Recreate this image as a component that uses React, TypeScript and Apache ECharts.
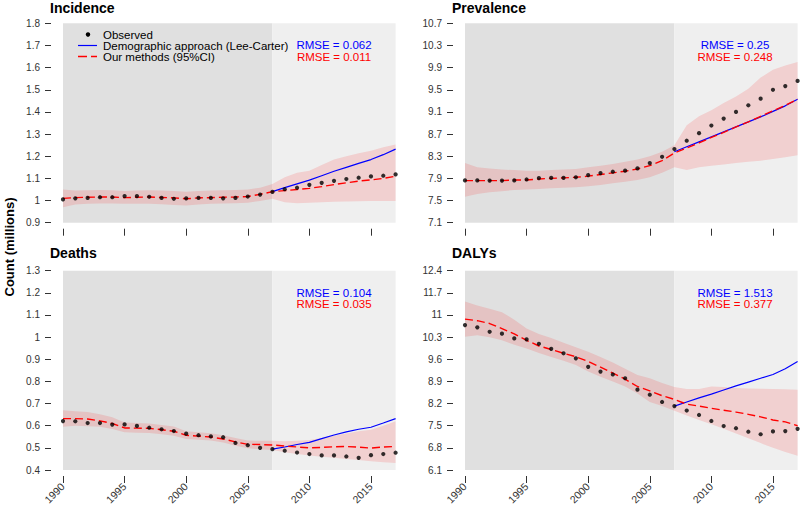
import React, { useEffect, useRef } from "react";
import * as echarts from "echarts";

const years = [1990, 1991, 1992, 1993, 1994, 1995, 1996, 1997, 1998, 1999, 2000, 2001, 2002, 2003, 2004, 2005, 2006, 2007, 2008, 2009, 2010, 2011, 2012, 2013, 2014, 2015, 2016, 2017];
const forecastYears = [2007, 2008, 2009, 2010, 2011, 2012, 2013, 2014, 2015, 2016, 2017];
const xTicks = [1990, 1995, 2000, 2005, 2010, 2015];

// Incidence
const incidenceObserved = [1.005, 1.01, 1.012, 1.015, 1.015, 1.02, 1.02, 1.017, 1.012, 1.008, 1.01, 1.012, 1.012, 1.01, 1.012, 1.018, 1.027, 1.039, 1.051, 1.058, 1.071, 1.08, 1.089, 1.097, 1.103, 1.109, 1.112, 1.118];
const incidenceModel = [1.01, 1.013, 1.015, 1.016, 1.016, 1.013, 1.015, 1.016, 1.014, 1.012, 1.008, 1.012, 1.013, 1.015, 1.016, 1.018, 1.028, 1.04, 1.045, 1.05, 1.055, 1.063, 1.072, 1.08, 1.088, 1.093, 1.1, 1.11];
const incidenceLC = [1.04, 1.058, 1.075, 1.092, 1.112, 1.132, 1.15, 1.168, 1.185, 1.207, 1.232];
const incidenceLower = [0.97, 0.982, 0.985, 0.987, 0.987, 0.985, 0.985, 0.985, 0.983, 0.98, 0.978, 0.982, 0.985, 0.987, 0.988, 0.99, 0.998, 1.008, 0.992, 0.988, 0.99, 0.992, 0.994, 0.996, 0.997, 0.998, 0.998, 0.998];
const incidenceUpper = [1.05, 1.045, 1.047, 1.048, 1.047, 1.043, 1.045, 1.047, 1.045, 1.043, 1.04, 1.043, 1.045, 1.047, 1.048, 1.05, 1.058, 1.075, 1.105, 1.125, 1.135, 1.16, 1.185, 1.2, 1.213, 1.225, 1.24, 1.253];
const incidenceTicks = ["0.9", "1", "1.1", "1.2", "1.3", "1.4", "1.5", "1.6", "1.7", "1.8"];

// Prevalence
const prevalenceObserved = [7.864, 7.864, 7.86, 7.86, 7.864, 7.88, 7.906, 7.91, 7.91, 7.92, 7.96, 7.996, 8.02, 8.04, 8.08, 8.176, 8.29, 8.43, 8.58, 8.716, 8.854, 8.98, 9.1, 9.22, 9.34, 9.5, 9.566, 9.66];
const prevalenceModel = [7.86, 7.86, 7.86, 7.86, 7.87, 7.87, 7.89, 7.9, 7.91, 7.92, 7.94, 7.97, 8.0, 8.03, 8.07, 8.13, 8.22, 8.36, 8.45, 8.54, 8.64, 8.73, 8.83, 8.92, 9.02, 9.12, 9.22, 9.33];
const prevalenceLC = [8.38, 8.47, 8.56, 8.65, 8.74, 8.83, 8.92, 9.01, 9.11, 9.21, 9.33];
const prevalenceLower = [7.57, 7.62, 7.65, 7.67, 7.69, 7.7, 7.71, 7.72, 7.73, 7.74, 7.76, 7.78, 7.81, 7.84, 7.87, 7.92, 8.0, 8.1, 8.05, 8.1, 8.13, 8.15, 8.18, 8.2, 8.22, 8.25, 8.28, 8.32];
const prevalenceUpper = [8.18, 8.1, 8.08, 8.06, 8.05, 8.04, 8.04, 8.05, 8.06, 8.07, 8.1, 8.13, 8.16, 8.2, 8.24, 8.3, 8.38, 8.5, 8.86, 9.02, 9.13, 9.26, 9.38, 9.52, 9.72, 9.86, 9.94, 10.0];
const prevalenceTicks = ["7.1", "7.5", "7.9", "8.3", "8.7", "9.1", "9.5", "9.9", "10.3", "10.7"];

// Deaths
const deathsObserved = [0.621, 0.62, 0.612, 0.612, 0.605, 0.606, 0.599, 0.591, 0.584, 0.576, 0.564, 0.557, 0.552, 0.548, 0.522, 0.512, 0.5, 0.494, 0.487, 0.479, 0.472, 0.466, 0.466, 0.461, 0.455, 0.467, 0.472, 0.478];
const deathsModel = [0.632, 0.632, 0.63, 0.622, 0.61, 0.59, 0.589, 0.588, 0.582, 0.575, 0.557, 0.553, 0.549, 0.54, 0.527, 0.516, 0.515, 0.513, 0.508, 0.504, 0.5, 0.502, 0.505, 0.506, 0.503, 0.499, 0.504, 0.506];
const deathsLC = [0.494, 0.504, 0.515, 0.525, 0.542, 0.558, 0.572, 0.584, 0.593, 0.612, 0.632];
const deathsLower = [0.595, 0.6, 0.598, 0.595, 0.585, 0.57, 0.568, 0.567, 0.562, 0.555, 0.54, 0.537, 0.533, 0.524, 0.51, 0.498, 0.494, 0.49, 0.48, 0.472, 0.465, 0.46, 0.455, 0.45, 0.445, 0.44, 0.435, 0.432];
const deathsUpper = [0.67, 0.665, 0.662, 0.652, 0.638, 0.615, 0.612, 0.61, 0.603, 0.596, 0.575, 0.57, 0.566, 0.557, 0.544, 0.533, 0.532, 0.532, 0.53, 0.532, 0.535, 0.545, 0.555, 0.565, 0.575, 0.582, 0.6, 0.62];
const deathsTicks = ["0.4", "0.5", "0.6", "0.7", "0.8", "0.9", "1", "1.1", "1.2", "1.3"];

// DALYs
const dalysObserved = [10.68, 10.61, 10.47, 10.41, 10.26, 10.23, 10.09, 9.93, 9.79, 9.63, 9.36, 9.21, 9.12, 9.0, 8.64, 8.48, 8.25, 8.12, 7.98, 7.84, 7.65, 7.49, 7.42, 7.31, 7.23, 7.32, 7.33, 7.4];
const dalysModel = [10.87, 10.82, 10.73, 10.57, 10.4, 10.2, 10.02, 9.91, 9.79, 9.68, 9.53, 9.35, 9.16, 8.97, 8.74, 8.6, 8.45, 8.33, 8.18, 8.12, 8.05, 7.99, 7.93, 7.86, 7.78, 7.68, 7.62, 7.5];
const dalysLC = [8.12, 8.25, 8.38, 8.5, 8.63, 8.76, 8.88, 9.0, 9.12, 9.3, 9.53];
const dalysLower = [10.31, 10.36, 10.3, 10.2, 10.06, 9.94, 9.8, 9.67, 9.55, 9.42, 9.21, 9.05, 8.9, 8.74, 8.52, 8.25, 8.12, 7.97, 7.82, 7.68, 7.55, 7.4, 7.25, 7.1, 6.95, 6.8, 6.67, 6.55];
const dalysUpper = [11.43, 11.3, 11.2, 11.09, 10.85, 10.57, 10.4, 10.27, 10.12, 9.98, 9.84, 9.67, 9.5, 9.3, 9.1, 9.0, 8.85, 8.72, 8.66, 8.66, 8.74, 8.72, 8.69, 8.68, 8.67, 8.66, 8.65, 8.64];
const dalysTicks = ["6.1", "6.8", "7.5", "8.2", "8.9", "9.6", "10.3", "11", "11.7", "12.4"];

const panelTitles = ["Incidence", "Prevalence", "Deaths", "DALYs"];
const rmseLC = ["RMSE = 0.062", "RMSE = 0.25", "RMSE = 0.104", "RMSE = 1.513"];
const rmseOurs = ["RMSE = 0.011", "RMSE = 0.248", "RMSE = 0.035", "RMSE = 0.377"];
const legendLabels = ["Observed", "Demographic approach (Lee-Carter)", "Our methods (95%CI)"];
const yAxisTitle = "Count (millions)";

const FONT = "'Liberation Sans', Arial, Helvetica, sans-serif";

export default function App() {
  const ref = useRef<HTMLDivElement>(null);

  useEffect(() => {
    if (!ref.current) return;
    const chart = echarts.init(ref.current, null, { renderer: "svg" });

    const panels = [
      { obs: incidenceObserved, model: incidenceModel, lc: incidenceLC, lo: incidenceLower, hi: incidenceUpper, ticks: incidenceTicks },
      { obs: prevalenceObserved, model: prevalenceModel, lc: prevalenceLC, lo: prevalenceLower, hi: prevalenceUpper, ticks: prevalenceTicks },
      { obs: deathsObserved, model: deathsModel, lc: deathsLC, lo: deathsLower, hi: deathsUpper, ticks: deathsTicks },
      { obs: dalysObserved, model: dalysModel, lc: dalysLC, lo: dalysLower, hi: dalysUpper, ticks: dalysTicks },
    ];

    const gridPos = [
      { left: 63, top: 23.3, width: 332.6, height: 199.4 },
      { left: 465, top: 23.3, width: 332.6, height: 199.4 },
      { left: 63, top: 270.7, width: 332.6, height: 199.3 },
      { left: 465, top: 270.7, width: 332.6, height: 199.3 },
    ];

    const grid = gridPos.map((g) => ({ ...g, containLabel: false }));

    const xAxis = panels.map((_, i) => ({
      type: "value",
      gridIndex: i,
      min: 1990,
      max: 2017,
      offset: 6,
      axisLine: { show: false },
      splitLine: { show: false },
      axisTick: { show: true, length: 7, customValues: xTicks, lineStyle: { color: "#333", width: 1 } },
      axisLabel: {
        show: i >= 2,
        customValues: xTicks,
        rotate: 45,
        margin: 9,
        fontSize: 10.5,
        color: "#333",
        fontFamily: FONT,
        formatter: (v: number) => String(Math.round(v)),
      },
    }));

    const yAxis = panels.map((p, i) => {
      const vals = p.ticks.map(Number);
      return {
        type: "value",
        gridIndex: i,
        min: vals[0],
        max: vals[vals.length - 1],
        offset: 12,
        axisLine: { show: false },
        splitLine: { show: false },
        axisTick: { show: true, length: 6, customValues: vals, lineStyle: { color: "#333", width: 1 } },
        axisLabel: {
          customValues: vals,
          margin: 11,
          fontSize: 10,
          color: "#333",
          fontFamily: FONT,
          formatter: (v: number) => {
            const k = vals.findIndex((t) => Math.abs(t - v) < 1e-6);
            return k >= 0 ? p.ticks[k] : "";
          },
        },
      };
    });

    const series: any[] = [];
    panels.forEach((p, i) => {
      // background periods (fitting / forecasting)
      series.push({
        type: "line",
        xAxisIndex: i,
        yAxisIndex: i,
        data: years.map((y, k) => [y, p.lo[k]]),
        symbol: "none",
        silent: true,
        lineStyle: { opacity: 0 },
        z: 0,
        markArea: {
          silent: true,
          z: 0,
          data: [
            [{ xAxis: 1990, itemStyle: { color: "#e0e0e0" } }, { xAxis: 2007 }],
            [{ xAxis: 2007, itemStyle: { color: "#efefef" } }, { xAxis: 2017 }],
          ],
        },
      });
      // 95% CI band
      series.push({
        type: "custom",
        xAxisIndex: i,
        yAxisIndex: i,
        silent: true,
        z: 2,
        clip: true,
        encode: { x: 0, y: [1, 2] },
        data: years.map((y, k) => [y, p.lo[k], p.hi[k]]),
        renderItem: (params: any, api: any) => {
          if (params.dataIndex !== 0) return null;
          const pts: number[][] = [];
          years.forEach((y, k) => pts.push(api.coord([y, p.hi[k]])));
          for (let k = years.length - 1; k >= 0; k--) pts.push(api.coord([years[k], p.lo[k]]));
          return {
            type: "polygon",
            shape: { points: pts },
            style: { fill: "rgba(255,0,0,0.13)", stroke: "none" },
          };
        },
      });
      series.push({
        type: "line",
        xAxisIndex: i,
        yAxisIndex: i,
        data: forecastYears.map((y, k) => [y, p.lc[k]]),
        symbol: "none",
        lineStyle: { color: "#0000ff", width: 1.2 },
        z: 3,
      });
      series.push({
        type: "line",
        xAxisIndex: i,
        yAxisIndex: i,
        data: years.map((y, k) => [y, p.model[k]]),
        symbol: "none",
        lineStyle: { color: "#ff0000", width: 1.4, type: [8, 4] },
        z: 4,
      });
      series.push({
        type: "scatter",
        xAxisIndex: i,
        yAxisIndex: i,
        data: years.map((y, k) => [y, p.obs[k]]),
        symbol: "circle",
        symbolSize: 4.2,
        itemStyle: { color: "#000" },
        z: 5,
      });
    });

    const titlePos = [
      [50, 7.5],
      [452, 7.5],
      [50, 253],
      [452, 253],
    ];
    const rmsePos = [
      [334, 45, 56.5],
      [735, 45, 56.5],
      [334, 292.5, 304],
      [735, 292.5, 304],
    ];

    const smallFont = `11.5px ${FONT}`;
    const graphic: any[] = [];
    panelTitles.forEach((t, i) => {
      graphic.push({
        type: "text",
        x: titlePos[i][0],
        y: titlePos[i][1],
        z: 10,
        style: { text: t, font: `bold 14px ${FONT}`, fill: "#000", align: "left", verticalAlign: "middle" },
      });
      graphic.push({
        type: "text",
        x: rmsePos[i][0],
        y: rmsePos[i][1],
        z: 10,
        style: { text: rmseLC[i], font: smallFont, lineHeight: 10, fill: "#0000ff", align: "center", verticalAlign: "middle" },
      });
      graphic.push({
        type: "text",
        x: rmsePos[i][0],
        y: rmsePos[i][2],
        z: 10,
        style: { text: rmseOurs[i], font: smallFont, lineHeight: 10, fill: "#ff0000", align: "center", verticalAlign: "middle" },
      });
    });

    // legend
    const legendY = [34.5, 45.5, 56.5];
    graphic.push({ type: "circle", z: 10, shape: { cx: 88, cy: legendY[0], r: 2.2 }, style: { fill: "#000" } });
    graphic.push({ type: "line", z: 10, shape: { x1: 78, y1: legendY[1], x2: 97, y2: legendY[1] }, style: { stroke: "#0000ff", lineWidth: 1.2 } });
    graphic.push({ type: "line", z: 10, shape: { x1: 78, y1: legendY[2], x2: 97, y2: legendY[2] }, style: { stroke: "#ff0000", lineWidth: 1.4, lineDash: [9, 4] } });
    legendLabels.forEach((t, k) => {
      graphic.push({
        type: "text",
        x: 103,
        y: legendY[k],
        z: 10,
        style: { text: t, font: smallFont, lineHeight: 10, fill: "#000", align: "left", verticalAlign: "middle" },
      });
    });

    graphic.push({
      type: "text",
      x: 9,
      y: 247,
      rotation: Math.PI / 2,
      z: 10,
      style: { text: yAxisTitle, font: `bold 13px ${FONT}`, fill: "#000", align: "center", verticalAlign: "middle" },
    });

    chart.setOption({
      animation: false,
      backgroundColor: "#ffffff",
      grid,
      xAxis,
      yAxis,
      series,
      graphic,
    });

    return () => chart.dispose();
  }, []);

  return (
    <div
      ref={ref}
      style={{ position: "fixed", left: 0, top: 0, width: 800, height: 509 }}
    />
  );
}
